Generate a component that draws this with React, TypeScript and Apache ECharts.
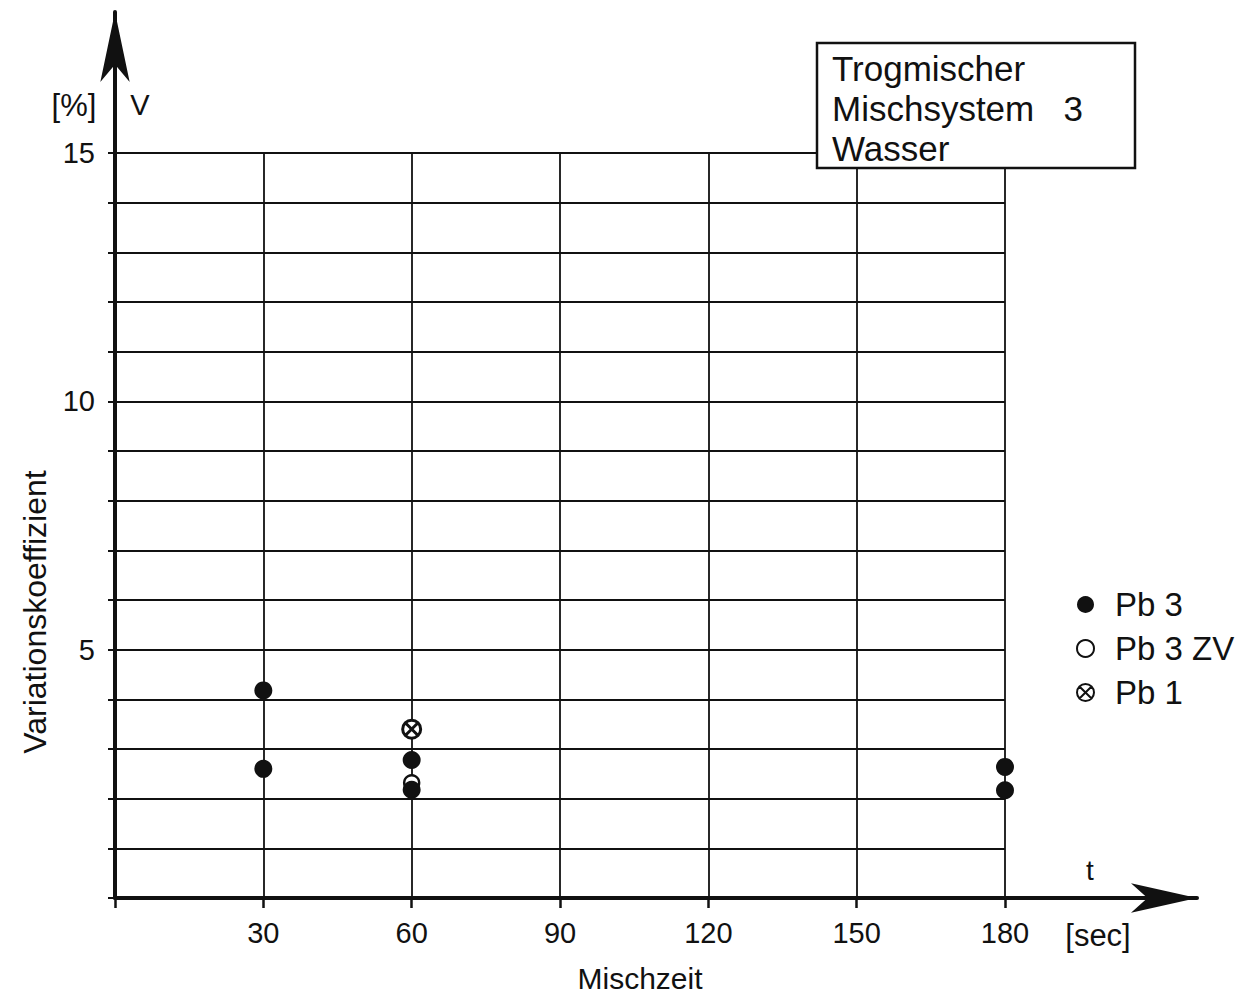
import React, { useEffect, useRef } from "react";
import * as echarts from "echarts";

const xMin = 0;
const xMax = 180;
const xInterval = 30;
const yMin = 0;
const yMax = 15;
const yInterval = 1;
const yLabelTicks = [5, 10, 15];

const pb3Times = [30, 30, 60, 60, 180, 180];
const pb3Values = [4.18, 2.6, 2.78, 2.18, 2.64, 2.17];
const pb3zvTimes = [60];
const pb3zvValues = [2.32];
const pb1Times = [60];
const pb1Values = [3.4];

const seriesNames = ["Pb 3", "Pb 3 ZV", "Pb 1"];
const titleLines = ["Trogmischer", "Mischsystem   3", "Wasser"];
const xName = "Mischzeit";
const yName = "Variationskoeffizient";
const yUnit = "[%]";
const ySymbol = "V";
const xSymbol = "t";
const xUnit = "[sec]";

const FONT = "'Liberation Sans', Arial, sans-serif";
const INK = "#111";
const crossPath =
  "path://M0,10A10,10 0 1,1 20,10A10,10 0 1,1 0,10Z M2.9,2.9L17.1,17.1M17.1,2.9L2.9,17.1";

export default function App() {
  const ref = useRef<HTMLDivElement>(null);

  useEffect(() => {
    document.body.style.margin = "0";
    const chart = echarts.init(ref.current!, null, { renderer: "svg" });
    const pair = (ts: number[], vs: number[]) => ts.map((t, i) => [t, vs[i]]);
    const txt = (text: string, x: number, y: number, size: number, extra: any = {}) => ({
      type: "text",
      z: 101,
      x,
      y,
      ...extra,
      style: {
        text,
        fontSize: size,
        fontFamily: FONT,
        fill: INK,
        textAlign: extra.align || "center",
        textVerticalAlign: "middle",
      },
    });

    const option: any = {
      animation: false,
      backgroundColor: "#fff",
      grid: [
        { left: 115, right: 242, top: 153, bottom: 102 },
        { left: 115, right: 50, top: 12, bottom: 102 },
      ],
      xAxis: [
        {
          type: "value",
          gridIndex: 0,
          min: xMin,
          max: xMax,
          interval: xInterval,
          axisLine: { show: false },
          axisTick: { show: true, length: 10, lineStyle: { color: INK, width: 2.5 } },
          axisLabel: {
            fontSize: 29,
            fontFamily: FONT,
            color: INK,
            margin: 20,
            formatter: (v: number) => (v === 0 ? "" : String(v)),
          },
          splitLine: { show: true, lineStyle: { color: INK, width: 1.8 } },
        },
        {
          type: "value",
          gridIndex: 1,
          min: 0,
          max: 1,
          axisLine: {
            show: true,
            lineStyle: { color: INK, width: 4 },
            symbol: ["none", "arrow"],
            symbolSize: [22, 66],
          },
          axisTick: { show: false },
          axisLabel: { show: false },
          splitLine: { show: false },
        },
      ],
      yAxis: [
        {
          type: "value",
          gridIndex: 0,
          min: yMin,
          max: yMax,
          interval: yInterval,
          axisLine: { show: false },
          axisTick: { show: true, length: 7, lineStyle: { color: INK, width: 2 } },
          axisLabel: {
            fontSize: 29,
            fontFamily: FONT,
            color: INK,
            margin: 20,
            formatter: (v: number) => (yLabelTicks.includes(v) ? String(v) : ""),
          },
          splitLine: { show: true, lineStyle: { color: INK, width: 1.8 } },
        },
        {
          type: "value",
          gridIndex: 1,
          min: 0,
          max: 1,
          axisLine: {
            show: true,
            lineStyle: { color: INK, width: 4 },
            symbol: ["none", "arrow"],
            symbolSize: [22, 70],
          },
          axisTick: { show: false },
          axisLabel: { show: false },
          splitLine: { show: false },
        },
      ],
      legend: {
        orient: "vertical",
        left: 1071,
        top: 581,
        itemWidth: 17,
        itemHeight: 17,
        itemGap: 7,
        selectedMode: false,
        textStyle: {
          fontSize: 33,
          lineHeight: 37,
          fontFamily: FONT,
          color: INK,
          padding: [0, 0, 0, 16],
        },
        data: [
          { name: seriesNames[0], icon: "circle" },
          { name: seriesNames[1], icon: "circle" },
          { name: seriesNames[2], icon: crossPath },
        ],
      },
      series: [
        {
          name: seriesNames[0],
          type: "scatter",
          xAxisIndex: 0,
          yAxisIndex: 0,
          symbol: "circle",
          symbolSize: 18,
          z: 5,
          itemStyle: { color: INK, opacity: 1 },
          data: pair(pb3Times, pb3Values),
        },
        {
          name: seriesNames[1],
          type: "scatter",
          xAxisIndex: 0,
          yAxisIndex: 0,
          symbol: "circle",
          symbolSize: 15,
          z: 4,
          itemStyle: { color: "#fff", borderColor: INK, borderWidth: 2.5, opacity: 1 },
          data: pair(pb3zvTimes, pb3zvValues),
        },
        {
          name: seriesNames[2],
          type: "scatter",
          xAxisIndex: 0,
          yAxisIndex: 0,
          symbol: crossPath,
          symbolSize: 18,
          z: 4,
          itemStyle: { color: "#fff", borderColor: INK, borderWidth: 3, opacity: 1 },
          data: pair(pb1Times, pb1Values),
        },
      ],
      graphic: [
        {
          type: "rect",
          z: 100,
          shape: { x: 817, y: 43, width: 318, height: 125 },
          style: { fill: "#fff", stroke: INK, lineWidth: 2.5 },
        },
        ...titleLines.map((line, i) => txt(line, 832, 68 + i * 40, 35, { align: "left" })),
        txt(yUnit, 74, 105, 31),
        txt(ySymbol, 140, 105, 29),
        txt(xSymbol, 1090, 870, 28),
        txt(xUnit, 1098, 935, 31),
        txt(xName, 640, 978, 30),
        txt(yName, 35, 612, 32, { rotation: Math.PI / 2 }),
      ],
    };

    chart.setOption(option);
    return () => chart.dispose();
  }, []);

  return <div ref={ref} style={{ width: 1247, height: 1000 }} />;
}
